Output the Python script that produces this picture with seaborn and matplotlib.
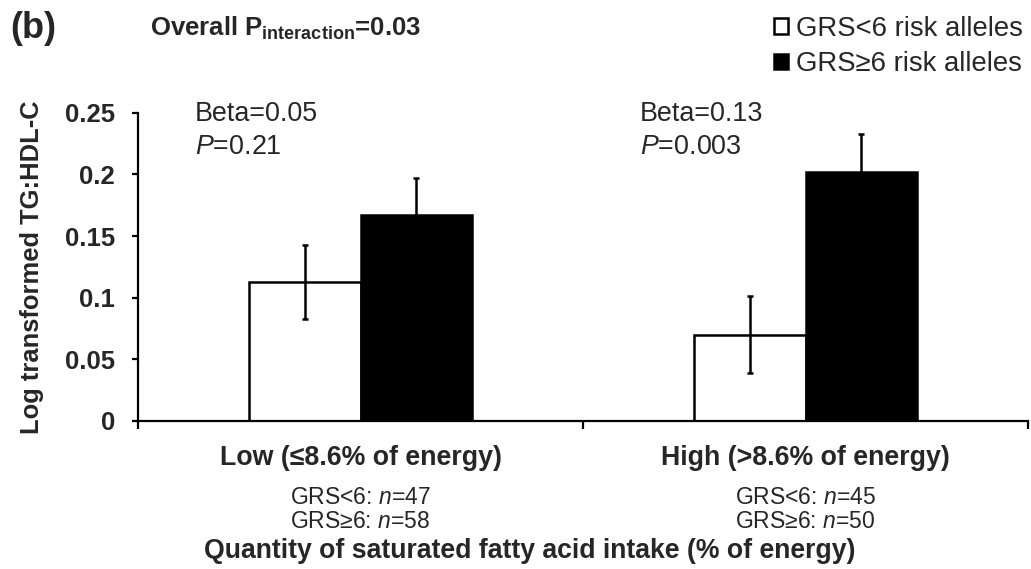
import matplotlib
matplotlib.use("Agg")
import matplotlib.pyplot as plt
import matplotlib.transforms as mtransforms
from matplotlib.patches import Patch
import seaborn as sns
import pandas as pd

# ---- data ----
categories = ["Low (\u22648.6% of energy)", "High (>8.6% of energy)"]
groups = ["GRS<6 risk alleles", "GRS\u22656 risk alleles"]
means_low_grs = [0.113, 0.070]
means_high_grs = [0.167, 0.202]
se_low_grs = [0.030, 0.031]
se_high_grs = [0.030, 0.031]
n_low_grs = [47, 45]
n_high_grs = [58, 50]
betas = ["0.05", "0.13"]
pvals = ["0.21", "0.003"]
yticks = [0, 0.05, 0.1, 0.15, 0.2, 0.25]
ytick_labels = ["0", "0.05", "0.1", "0.15", "0.2", "0.25"]

df = pd.DataFrame({
    "cat": categories * 2,
    "grp": [groups[0]] * 2 + [groups[1]] * 2,
    "val": means_low_grs + means_high_grs,
    "se": se_low_grs + se_high_grs,
})

sns.set_theme(style="white")
plt.rcParams["font.family"] = ["Liberation Sans", "DejaVu Sans"]
plt.rcParams["mathtext.fontset"] = "custom"
plt.rcParams["mathtext.rm"] = "Liberation Sans"
plt.rcParams["mathtext.it"] = "Liberation Sans:italic"
plt.rcParams["mathtext.bf"] = "Liberation Sans:bold"

fig = plt.figure(figsize=(10.31, 5.69), dpi=100)
ax = fig.add_axes([138 / 1031, 1 - 421 / 569, (1028 - 138) / 1031, (421 - 112.7) / 569])

sns.barplot(data=df, x="cat", y="val", hue="grp", order=categories, hue_order=groups,
            palette=["white", "black"], edgecolor="black", linewidth=1.8,
            width=0.5, errorbar=None, legend=False, ax=ax, saturation=1)

# error bars from bar positions
vals_in_order = [means_low_grs[0], means_low_grs[1], means_high_grs[0], means_high_grs[1]]
ses_in_order = [se_low_grs[0], se_low_grs[1], se_high_grs[0], se_high_grs[1]]
for p in list(ax.patches):
    cx = p.get_x() + p.get_width() / 2
    h = p.get_height()
    idx = min(range(4), key=lambda i: abs(vals_in_order[i] - h))
    ax.errorbar(cx, h, yerr=ses_in_order[idx], color="black", lw=1.8,
                capsize=2.2, capthick=1.8, zorder=5)

ax.set_xlim(-0.5, 1.5)
ax.set_ylim(0, 0.25)
ax.set_yticks(yticks)
ax.set_yticklabels(ytick_labels, fontsize=18.5, fontweight="bold")
ax.set_xticks([0, 1])
ax.set_xticklabels(categories, fontsize=19.3, fontweight="bold")
ax.tick_params(axis="x", which="major", length=0, pad=17, bottom=True)
ax.set_xticks([-0.5, 0.5, 1.5], minor=True)
ax.tick_params(axis="x", which="minor", length=6, width=1.6, direction="out",
               color="black", bottom=True)
ax.tick_params(axis="y", length=4.5, width=1.6, direction="out", color="black",
               pad=12, left=True)
for s in ["top", "right"]:
    ax.spines[s].set_visible(False)
for s in ["left", "bottom"]:
    ax.spines[s].set_color("black")
    ax.spines[s].set_linewidth(1.6)
ax.set_xlabel("")
ax.set_ylabel("Log transformed TG:HDL-C", fontsize=18.4, fontweight="bold")
ax.yaxis.set_label_coords(-0.106, 0.5)

# n annotations
trans = mtransforms.blended_transform_factory(ax.transData, fig.transFigure)
for i in range(2):
    ax.text(i, 1 - 498 / 569, f"GRS<6: $\\it{{n}}$={n_low_grs[i]}", transform=trans,
            ha="center", va="center", fontsize=16.5)
    ax.text(i, 1 - 522 / 569, f"GRS\u22656: $\\it{{n}}$={n_high_grs[i]}", transform=trans,
            ha="center", va="center", fontsize=16.5)

fig.text(530 / 1031, 1 - 551 / 569,
         "Quantity of saturated fatty acid intake (% of energy)",
         ha="center", va="center", fontsize=19.2, fontweight="bold")

# Beta / P annotations
xs = [195 / 1031, 640 / 1031]
for i in range(2):
    fig.text(xs[i], 1 - 114 / 569, f"Beta={betas[i]}", ha="left", va="center", fontsize=19.4)
    fig.text(xs[i], 1 - 147 / 569, f"$\\it{{P}}$={pvals[i]}", ha="left", va="center", fontsize=19.4)

fig.text(10 / 1031, 1 - 29 / 569, "(b)", ha="left", va="center", fontsize=26, fontweight="bold")
fig.text(150 / 1031, 1 - 28 / 569, r"Overall $\mathbf{P_{interaction}}$=0.03",
         ha="left", va="center", fontsize=18.5, fontweight="bold")

handles = [Patch(facecolor="white", edgecolor="black", linewidth=1.8),
           Patch(facecolor="black", edgecolor="black", linewidth=1.8)]
fig.legend(handles, groups, loc="upper right", bbox_to_anchor=(1.0097, 1.0 + 2 / 569),
           frameon=False, fontsize=19.8, handlelength=0.5, handleheight=0.5,
           handletextpad=0.3, labelspacing=0.34, borderaxespad=0.25)

fig.savefig("out.png", dpi=100)
